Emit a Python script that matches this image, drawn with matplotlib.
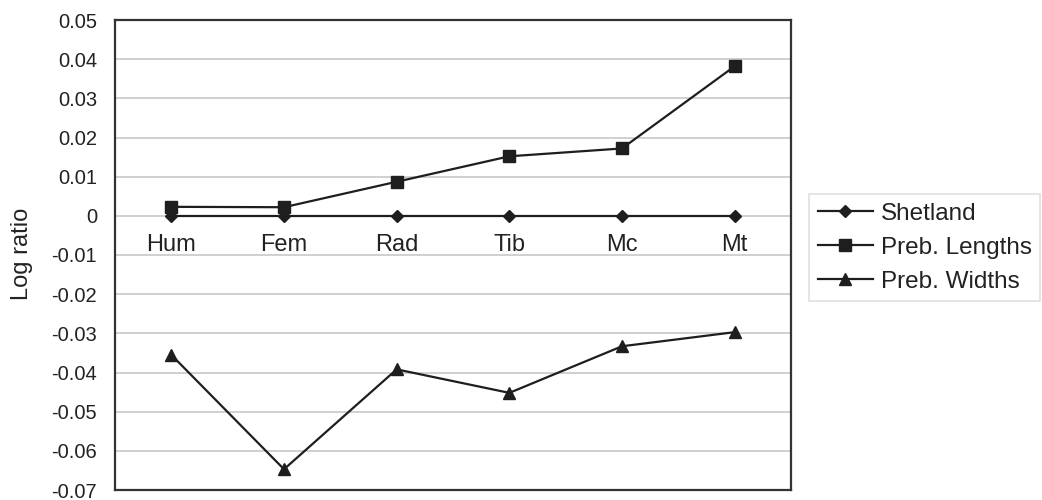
import matplotlib
matplotlib.use("Agg")
import matplotlib.pyplot as plt

categories = ["Hum", "Fem", "Rad", "Tib", "Mc", "Mt"]
shetland = [0, 0, 0, 0, 0, 0]
preb_lengths = [0.0023, 0.0022, 0.0087, 0.0152, 0.0172, 0.0382]
preb_widths = [-0.0355, -0.0647, -0.0392, -0.0452, -0.0333, -0.0297]
yticks = [0.05, 0.04, 0.03, 0.02, 0.01, 0, -0.01, -0.02, -0.03, -0.04, -0.05, -0.06, -0.07]
ytick_labels = ["0.05", "0.04", "0.03", "0.02", "0.01", "0", "-0.01", "-0.02",
                "-0.03", "-0.04", "-0.05", "-0.06", "-0.07"]

plt.rcParams['font.family'] = ['Liberation Sans', 'DejaVu Sans']

fig = plt.figure(figsize=(10.42, 5.0), dpi=100)
fig.patch.set_facecolor('white')
ax = fig.add_axes([115/1042, 10/500, 676/1042, 470/500])

x = list(range(len(categories)))
lc = '#1e1e1e'
ax.plot(x, shetland, color=lc, lw=1.6, marker='D', ms=6, label='Shetland', zorder=3)
ax.plot(x, preb_lengths, color=lc, lw=1.6, marker='s', ms=8, label='Preb. Lengths', zorder=3)
ax.plot(x, preb_widths, color=lc, lw=1.6, marker='^', ms=9, label='Preb. Widths', zorder=3)

ax.set_xlim(-0.5, len(categories) - 0.5)
ax.set_ylim(-0.07, 0.05)
ax.set_yticks(yticks)
ax.set_yticklabels(ytick_labels, fontsize=14.5, color='#222222')
ax.tick_params(axis='y', length=0, pad=13)
ax.set_xticks([])
ax.yaxis.grid(True, color='#c4c4c4', lw=1.1)
ax.set_axisbelow(True)
for s in ax.spines.values():
    s.set_color('#333333')
    s.set_linewidth(1.6)

for i, c in enumerate(categories):
    ax.text(i, -0.0075, c, ha='center', va='center', fontsize=17, color='#222222')

fig.text(22/1042, 1 - 254/500, 'Log ratio', rotation=90, ha='center', va='center',
         fontsize=17, color='#222222')

leg = fig.legend(loc='upper left', bbox_to_anchor=(809/1042, 1 - 194/500),
                 fontsize=17.5, frameon=True, fancybox=False, handlelength=2.3,
                 handletextpad=0.3, labelspacing=0.5, borderpad=0.35, borderaxespad=0)
leg.get_frame().set_edgecolor('#d8d8d8')
leg.get_frame().set_linewidth(1.2)
for t in leg.get_texts():
    t.set_color('#222222')

fig.savefig('out.png', dpi=100, facecolor='white')
